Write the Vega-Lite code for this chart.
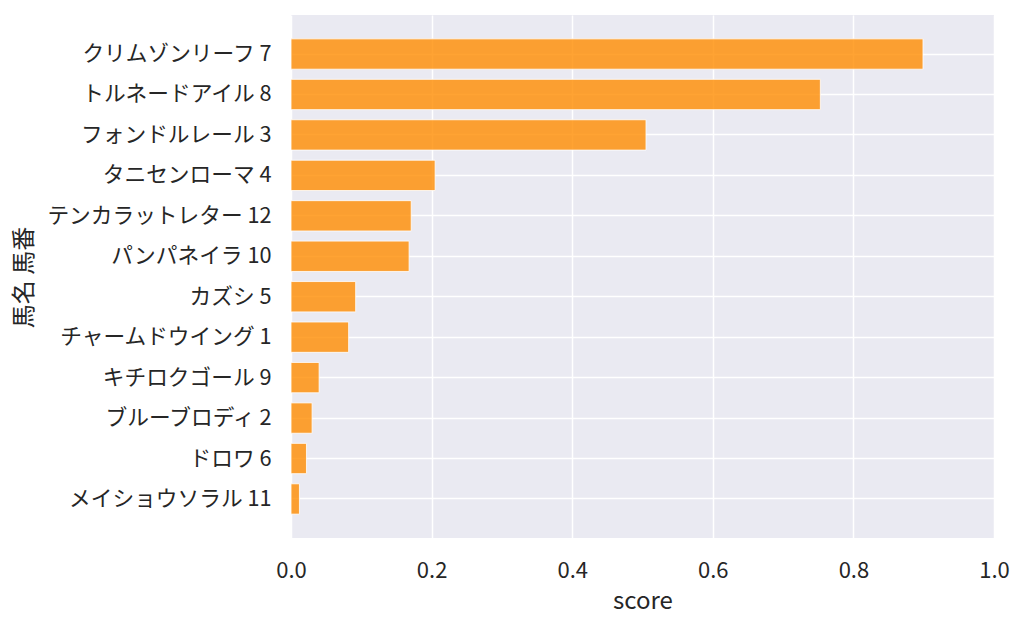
{
  "$schema": "https://vega.github.io/schema/vega-lite/v6.json",
  "autosize": "none",
  "width": 703,
  "height": 523,
  "padding": {"left": 291, "top": 15, "right": 30, "bottom": 89},
  "background": "white",
  "config": {
    "font": "Noto Sans CJK JP",
    "view": {"fill": "#eaeaf2", "stroke": null},
    "axis": {
      "domain": false,
      "ticks": false,
      "tickSize": 0,
      "grid": true,
      "gridColor": "white",
      "gridWidth": 1.5,
      "labelColor": "#262626",
      "titleColor": "#262626",
      "labelFont": "Noto Sans CJK JP",
      "titleFont": "Noto Sans CJK JP",
      "labelFontSize": 22,
      "titleFontSize": 24,
      "titleFontWeight": "normal"
    }
  },
  "data": {
    "values": [
      {"label": "クリムゾンリーフ 7", "score": 0.899},
      {"label": "トルネードアイル 8", "score": 0.753},
      {"label": "フォンドルレール 3", "score": 0.505},
      {"label": "タニセンローマ 4", "score": 0.205},
      {"label": "テンカラットレター 12", "score": 0.171},
      {"label": "パンパネイラ 10", "score": 0.168},
      {"label": "カズシ 5", "score": 0.092},
      {"label": "チャームドウイング 1", "score": 0.082},
      {"label": "キチロクゴール 9", "score": 0.040},
      {"label": "ブルーブロディ 2", "score": 0.030},
      {"label": "ドロワ 6", "score": 0.022},
      {"label": "メイショウソラル 11", "score": 0.012}
    ]
  },
  "mark": {
    "type": "bar",
    "color": "#ff8c00",
    "fillOpacity": 0.8,
    "stroke": "white",
    "strokeWidth": 1,
    "strokeOpacity": 0.8
  },
  "encoding": {
    "y": {
      "field": "label",
      "type": "nominal",
      "sort": null,
      "scale": {"paddingInner": 0.25, "paddingOuter": 0.59},
      "axis": {
        "title": "馬名 馬番",
        "bandPosition": 0.5,
        "labelPadding": 20,
        "labelLimit": 400,
        "labelFontSize": 21.7,
        "titleAngle": -90,
        "titleX": -267,
        "titleY": 262,
        "titleAlign": "center",
        "titleBaseline": "middle"
      }
    },
    "x": {
      "field": "score",
      "type": "quantitative",
      "scale": {"domain": [0, 1], "nice": false},
      "axis": {
        "title": "score",
        "values": [0, 0.2, 0.4, 0.6, 0.8, 1.0],
        "format": ".1f",
        "labelFlush": false,
        "labelOverlap": false,
        "labelBaseline": "alphabetic",
        "labelPadding": 39,
        "titleX": 351.5,
        "titleY": 70,
        "titleAlign": "center",
        "titleBaseline": "alphabetic"
      }
    }
  }
}
